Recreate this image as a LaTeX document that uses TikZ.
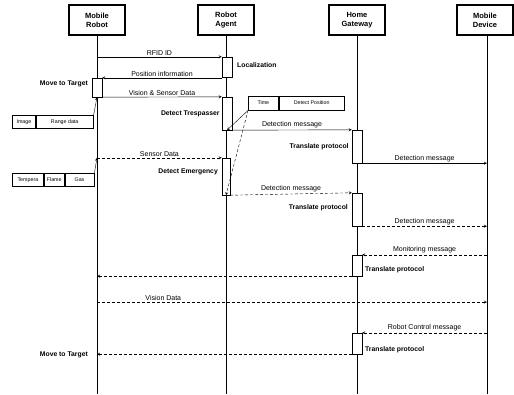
\documentclass[tikz,border=0pt]{standalone}
\usepackage{fontspec}
\setmainfont{Liberation Sans}
\usetikzlibrary{arrows,positioning}

\begin{document}
\begin{tikzpicture}[x=1pt, y=-1pt, >=stealth,
    head/.style = {draw, line width=1.1pt, minimum width=56pt, minimum height=30pt, align=center, inner sep=1pt, font=\bfseries\fontsize{7.5}{9}\selectfont},
    act/.style = {draw, fill=white, minimum width=10pt, inner sep=0pt},
    msg/.style = {font=\fontsize{7}{8}\selectfont, inner sep=1.5pt},
    note/.style = {font=\bfseries\fontsize{6.8}{8}\selectfont, inner sep=1pt},
    cell/.style = {draw, line width=0.8pt, minimum height=13pt, inner sep=1pt, font=\fontsize{5.3}{6}\selectfont}]

            \useasboundingbox (0,0) rectangle (514,394);

            % Heads
            \node[head] (mr) at (97,20) {Mobile\\Robot};
            \node[head] (ra) at (226,20) {Robot\\Agent};
            \node[head] (hg) at (357,20) {Home\\Gateway};
            \node[head] (md) at (485,20) {Mobile\\Device};

            % Lifelines
            \coordinate (mrend) at (97,394);
            \coordinate (raend) at (226,394);
            \coordinate (hgend) at (357,394);
            \coordinate (mdend) at (487,394);
            \draw[line width=1pt] (mr) -- (mrend);
            \draw[line width=1pt] (ra) -- (raend);
            \draw[line width=1pt] (hg) -- (hgend);
            \draw[line width=0.8pt] (md.south -| mdend) -- (mdend);

            % Activations
            \node[act, minimum height=20pt] (loc) at (227,67) {};
            \node[act, minimum height=19pt] (move) at (97,87.5) {};
            \node[act, minimum height=33pt] (tres) at (227,113.5) {};
            \node[act, minimum height=37pt, minimum width=8pt] (emer) at (226,176.5) {};
            \node[act, minimum height=33pt] (tp1) at (357,146.5) {};
            \node[act, minimum height=33pt] (tp2) at (357,209.5) {};
            \node[act, minimum height=21pt] (tp3) at (357,265.5) {};
            \node[act, minimum height=21pt] (tp4) at (357,343.5) {};

            % Notes
            \node[note, anchor=west] at (236,65) {Localization};
            \node[note, anchor=east] at (89,84) {Move to Target};
            \node[note, left=1pt of tres] {Detect Trespasser};
            \node[note, anchor=east] at (219,172) {Detect Emergency};
            \node[note, left=2pt of tp1] {Translate protocol};
            \node[note, anchor=east] at (349,208) {Translate protocol};
            \node[note, anchor=west] at (364,270) {Translate protocol};
            \node[note, anchor=west] at (364,350) {Translate protocol};
            \node[note, anchor=east] at (89,355) {Move to Target};

            % Data boxes
            \node[cell, anchor=west, minimum width=23pt] (img) at (12,122) {Image};
            \node[cell, right=0pt of img, minimum width=57pt] (rng) {Range data};
            \node[cell, anchor=west, minimum width=31pt] (temp) at (12,180) {Tempera};
            \node[cell, right=0pt of temp, minimum width=20pt] (flame) {Flame};
            \node[cell, right=0pt of flame, minimum width=29pt] (gas) {Gas};
            \node[cell, anchor=west, minimum width=30pt, minimum height=14pt] (time) at (248,103) {Time};
            \node[cell, right=0pt of time, minimum width=65pt, minimum height=14pt] (pos) {Detect Position};

            % Lines
            \coordinate (sensor) at (emer.north west -| mr);
            \coordinate (vision) at (97,302);
            \draw[->] (loc.north west -| mr) -- node[msg, above] {RFID ID} (loc.north west);
            \draw[->] (move.north east -| loc.west) -- node[msg, above] {Position information} (move.north east);
            \draw[->] (move.south east) -- node[msg, above] {Vision \& Sensor Data} (tres.north west);
            \draw[->] (rng.north east) -- (move.south);
            \draw[->] (time.south west) -- (tres.south);
            \draw[->, densely dashed] (time.south west) -- (emer.south);
            \draw[->] (tres.south east) -- node[msg, above] {Detection message} (tp1.north west);
            \draw[->] (tp1.south east) -- node[msg, above] {Detection message} (tp1.south east -| mdend);
            \draw[->, densely dashed] (sensor) -- node[msg, above, pos=0.5] {Sensor Data} (emer.north west);
            \draw[->] (gas.north east) -- (sensor);
            \draw[->, densely dashed] (emer.south east) -- node[msg, above] {Detection message} (tp2.north west);
            \draw[->, densely dashed] (tp2.south east) -- node[msg, above] {Detection message} (tp2.south east -| mdend);
            \draw[->, densely dashed] (tp3.north east -| mdend) -- node[msg, above] {Monitoring message} (tp3.north east);
            \draw[->, densely dashed] (tp3.south west) -- (tp3.south west -| mr);
            \draw[->, densely dashed] (vision) -- node[msg, above, pos=0.17] {Vision Data} (vision -| mdend);
            \draw[->, densely dashed] (tp4.north east -| mdend) -- node[msg, above] {Robot Control message} (tp4.north east);
            \draw[->, densely dashed] (tp4.south west) -- (tp4.south west -| mr);

        \end{tikzpicture}
\end{document}
